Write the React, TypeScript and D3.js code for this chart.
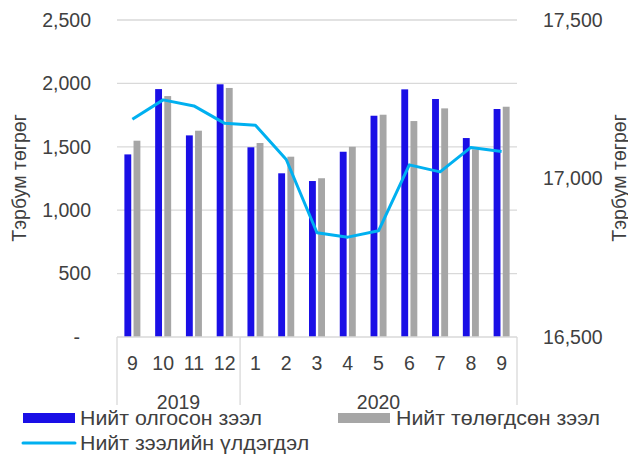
import React, { useEffect, useRef } from 'react';
import * as d3 from 'd3';

const months = ['9', '10', '11', '12', '1', '2', '3', '4', '5', '6', '7', '8', '9'];
const years = ['2019', '2019', '2019', '2019', '2020', '2020', '2020', '2020', '2020', '2020', '2020', '2020', '2020'];
const issued = [1440, 1955, 1590, 1993, 1496, 1291, 1230, 1461, 1745, 1953, 1877, 1569, 1798];
const repaid = [1548, 1900, 1627, 1964, 1530, 1422, 1252, 1500, 1753, 1703, 1803, 1480, 1816];
const balance = [17187, 17248, 17229, 17174, 17168, 17060, 16829, 16815, 16835, 17043, 17021, 17098, 17085];
const leftTicks = [0, 500, 1000, 1500, 2000, 2500];
const rightTicks = [16500, 17000, 17500];
const legendNames = ['Нийт олгосон зээл', 'Нийт төлөгдсөн зээл', 'Нийт зээлийн үлдэгдэл'];

const FONT = '"Liberation Sans", Arial, sans-serif';
const BLUE = '#1a0fe6';
const GRAY = '#a6a6a6';
const CYAN = '#00b0f0';

const App = () => {
  const ref = useRef<SVGSVGElement>(null);

  useEffect(() => {
    const width = 628;
    const height = 454;
    const plot = { left: 117, right: 517, top: 20, bottom: 337 };

    const svg = d3.select(ref.current).attr('width', width).attr('height', height);
    svg.selectAll('*').remove();

    const idx = months.map((_, i) => i);
    const x = d3.scaleBand<number>().domain(idx).range([plot.left, plot.right]).padding(0);
    const groupW = 16;
    const x1 = d3.scaleBand<string>().domain(['a', 'b']).range([0, groupW]).paddingInner(0.25);
    const yL = d3.scaleLinear().domain([0, 2500]).range([plot.bottom, plot.top]);
    const yR = d3.scaleLinear().domain([16500, 17500]).range([plot.bottom, plot.top]);

    // grid
    svg.append('g')
      .selectAll('line')
      .data(leftTicks.filter(d => d > 0))
      .enter()
      .append('line')
      .attr('x1', plot.left)
      .attr('x2', plot.right)
      .attr('y1', d => yL(d))
      .attr('y2', d => yL(d))
      .attr('stroke', '#d9d9d9')
      .attr('stroke-width', 1.3);

    // bars
    const off = (x.bandwidth() - groupW) / 2;
    svg.append('g')
      .selectAll('rect')
      .data(issued)
      .enter()
      .append('rect')
      .attr('x', (d, i) => (x(i) as number) + off + (x1('a') as number))
      .attr('y', d => yL(d))
      .attr('width', x1.bandwidth())
      .attr('height', d => yL(0) - yL(d))
      .attr('fill', BLUE);
    svg.append('g')
      .selectAll('rect')
      .data(repaid)
      .enter()
      .append('rect')
      .attr('x', (d, i) => (x(i) as number) + off + (x1('b') as number))
      .attr('y', d => yL(d))
      .attr('width', x1.bandwidth())
      .attr('height', d => yL(0) - yL(d))
      .attr('fill', GRAY);

    // x axis + category separators
    const axisG = svg.append('g').attr('stroke', '#d9d9d9').attr('stroke-width', 1.3);
    axisG.append('line')
      .attr('x1', plot.left).attr('x2', plot.right)
      .attr('y1', plot.bottom).attr('y2', plot.bottom);
    const yearGroups = d3.groups(idx, i => years[i]);
    const bounds = [plot.left, ...yearGroups.map(g => (x(g[1][g[1].length - 1]) as number) + x.bandwidth())];
    axisG.selectAll('.sep')
      .data(bounds)
      .enter()
      .append('line')
      .attr('x1', d => d).attr('x2', d => d)
      .attr('y1', plot.bottom).attr('y2', 405);

    // line
    const line = d3.line<number>()
      .x((d, i) => (x(i) as number) + x.bandwidth() / 2)
      .y(d => yR(d));
    svg.append('path')
      .datum(balance)
      .attr('d', line)
      .attr('fill', 'none')
      .attr('stroke', CYAN)
      .attr('stroke-width', 3)
      .attr('stroke-linejoin', 'round');

    const text = svg.append('g')
      .attr('font-family', FONT)
      .attr('font-size', 19.5)
      .attr('fill', '#404040');

    // month labels
    text.selectAll('.m')
      .data(months)
      .enter()
      .append('text')
      .attr('x', (d, i) => (x(i) as number) + x.bandwidth() / 2)
      .attr('y', 363)
      .attr('dy', '0.35em')
      .attr('text-anchor', 'middle')
      .text(d => d);

    // year labels
    text.selectAll('.y')
      .data(yearGroups)
      .enter()
      .append('text')
      .attr('x', (d, i) => (bounds[i] + bounds[i + 1]) / 2)
      .attr('y', 402)
      .attr('dy', '0.35em')
      .attr('text-anchor', 'middle')
      .text(d => d[0]);

    // left ticks
    text.selectAll('.lt')
      .data(leftTicks)
      .enter()
      .append('text')
      .attr('x', d => (d === 0 ? 80 : 91))
      .attr('y', d => yL(d))
      .attr('dy', '0.35em')
      .attr('text-anchor', 'end')
      .text(d => (d === 0 ? '-' : d3.format(',')(d)));

    // right ticks
    text.selectAll('.rt')
      .data(rightTicks)
      .enter()
      .append('text')
      .attr('x', 543)
      .attr('y', d => yR(d))
      .attr('dy', '0.35em')
      .attr('text-anchor', 'start')
      .text(d => d3.format(',')(d));

    // axis titles
    text.append('text')
      .attr('transform', 'translate(19,178) rotate(-90)')
      .attr('dy', '0.35em')
      .attr('text-anchor', 'middle')
      .text('Тэрбум төгрөг');
    text.append('text')
      .attr('transform', 'translate(619,178) rotate(-90)')
      .attr('dy', '0.35em')
      .attr('text-anchor', 'middle')
      .text('Тэрбум төгрөг');

    // legend
    const legend = svg.append('g').attr('font-family', FONT).attr('font-size', 19.5).attr('fill', '#404040');
    legend.append('rect').attr('x', 23).attr('y', 413).attr('width', 52).attr('height', 10).attr('fill', BLUE);
    legend.append('rect').attr('x', 338).attr('y', 413).attr('width', 52).attr('height', 10).attr('fill', GRAY);
    legend.append('line').attr('x1', 23).attr('x2', 75).attr('y1', 443).attr('y2', 443)
      .attr('stroke', CYAN).attr('stroke-width', 3).attr('stroke-linecap', 'round');
    const legendPos = [[80, 418], [396, 418], [80, 443]];
    legend.selectAll('.lt')
      .data(legendNames)
      .enter()
      .append('text')
      .attr('transform', (d, i) => `translate(${legendPos[i][0]},${legendPos[i][1]}) scale(1.095,1)`)
      .attr('dy', '0.35em')
      .text(d => d);
  }, []);

  return (
    <div style={{ position: 'absolute', left: 0, top: 0, background: '#fff' }}>
      <svg ref={ref} style={{ display: 'block' }} />
    </div>
  );
};

export default App;
